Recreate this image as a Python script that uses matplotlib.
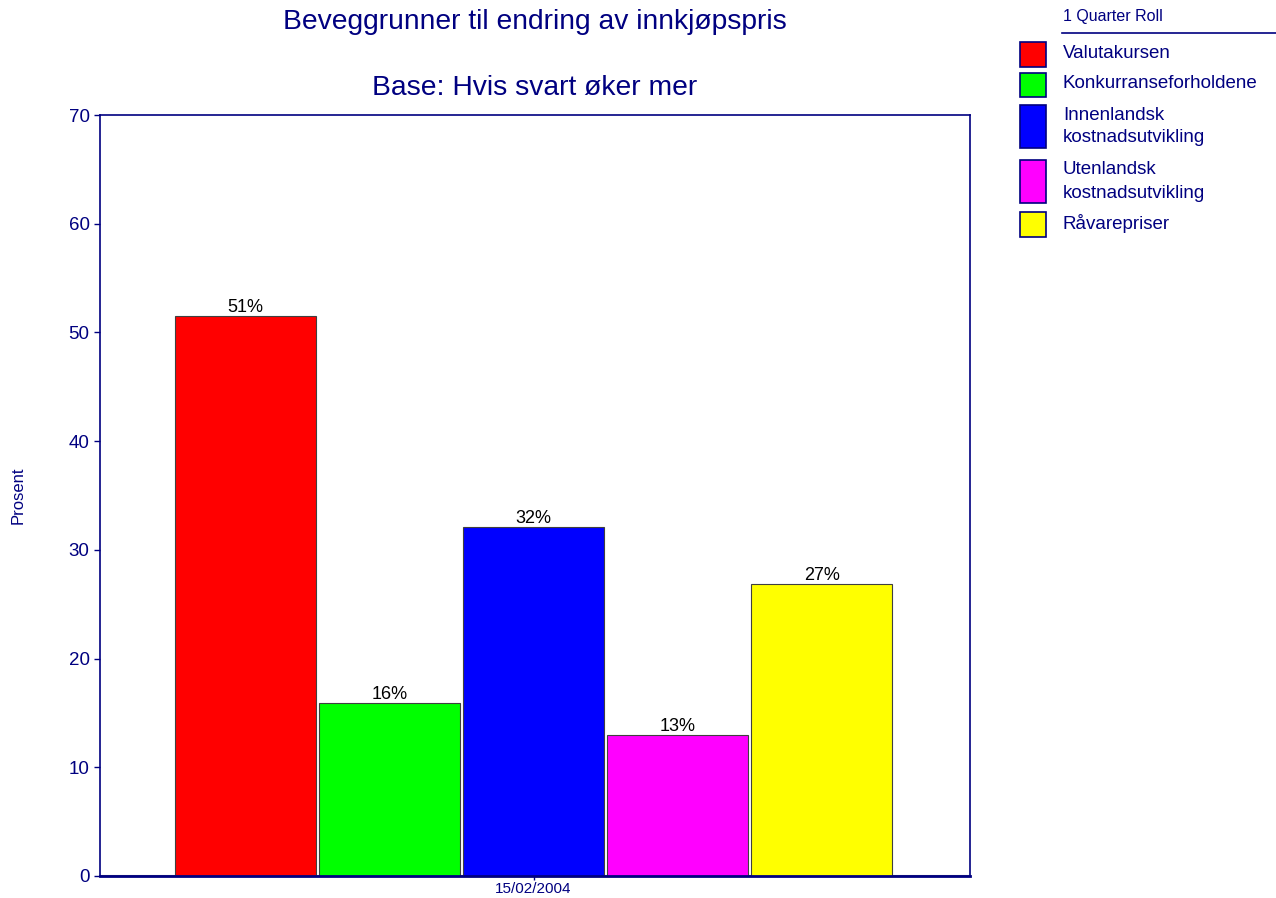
import matplotlib
matplotlib.use("Agg")
import matplotlib.pyplot as plt
from matplotlib.patches import Rectangle
from matplotlib.lines import Line2D

plt.rcParams['font.family'] = ['Liberation Sans', 'DejaVu Sans']

categories = ["Valutakursen", "Konkurranseforholdene", "Innenlandsk\nkostnadsutvikling",
              "Utenlandsk\nkostnadsutvikling", "Råvarepriser"]
values = [51.5, 15.9, 32.1, 13.0, 26.9]
labels = ["51%", "16%", "32%", "13%", "27%"]
colors = ["#ff0000", "#00ff00", "#0000ff", "#ff00ff", "#ffff00"]
date_label = "15/02/2004"
yticks = [0, 10, 20, 30, 40, 50, 60, 70]

navy = "#000080"
W, H = 1276, 898
fig = plt.figure(figsize=(W / 100, H / 100), dpi=100)
ax = fig.add_axes([100 / W, 1 - 876 / H, 870 / W, (876 - 115) / H])

x = list(range(len(values)))
ax.bar(x, values, width=0.98, color=colors, edgecolor="#404040", linewidth=0.8, zorder=2)
for xi, v, lab in zip(x, values, labels):
    ax.text(xi, v, lab, ha="center", va="bottom", fontsize=13, color="black")

ax.set_xlim(-1.01, 5.03)
ax.set_ylim(0, 70)
ax.set_yticks(yticks)
ax.set_xticks([2])
ax.set_xticklabels([date_label], fontsize=11, color=navy)
ax.tick_params(axis="y", labelsize=13.5, labelcolor=navy, color=navy, length=4, width=1)
ax.tick_params(axis="x", color=navy, length=3, width=1, pad=1.5)
for s in ax.spines.values():
    s.set_color(navy)
    s.set_linewidth(1.2)
ax.spines["bottom"].set_linewidth(2)
ax.axhline(0, color="#808080", linewidth=1.5, zorder=1.5)

ax.set_ylabel("Prosent", fontsize=12, color=navy, labelpad=31)

fig.text(535 / W, 1 - 29 / H, "Beveggrunner til endring av innkjøpspris", ha="center",
         va="baseline", fontsize=20.3, color=navy)
fig.text(535 / W, 1 - 95 / H, "Base: Hvis svart øker mer", ha="center",
         va="baseline", fontsize=20.3, color=navy)

# Legend
fig.text(1063 / W, 1 - 21 / H, "1 Quarter Roll", fontsize=11.5, color=navy, va="baseline")
fig.add_artist(Line2D([1062 / W, 1276 / W], [1 - 33 / H, 1 - 33 / H], color=navy, linewidth=1.2,
                      transform=fig.transFigure))
boxes = [(42, 67), (73, 97), (105, 148), (160, 203), (212, 237)]
text_y = [52, 82, 113, 168, 221]
for (t, b), ty, c, cat in zip(boxes, text_y, colors, categories):
    fig.add_artist(Rectangle((1020 / W, 1 - b / H), 26 / W, (b - t) / H, facecolor=c,
                             edgecolor=navy, linewidth=1.2, transform=fig.transFigure))
    for k, line in enumerate(cat.split("\n")):
        fig.text(1063 / W, 1 - (ty + 23 * k) / H, line, fontsize=13.5, color=navy,
                 va="center_baseline")

fig.savefig("out.png", dpi=100)
